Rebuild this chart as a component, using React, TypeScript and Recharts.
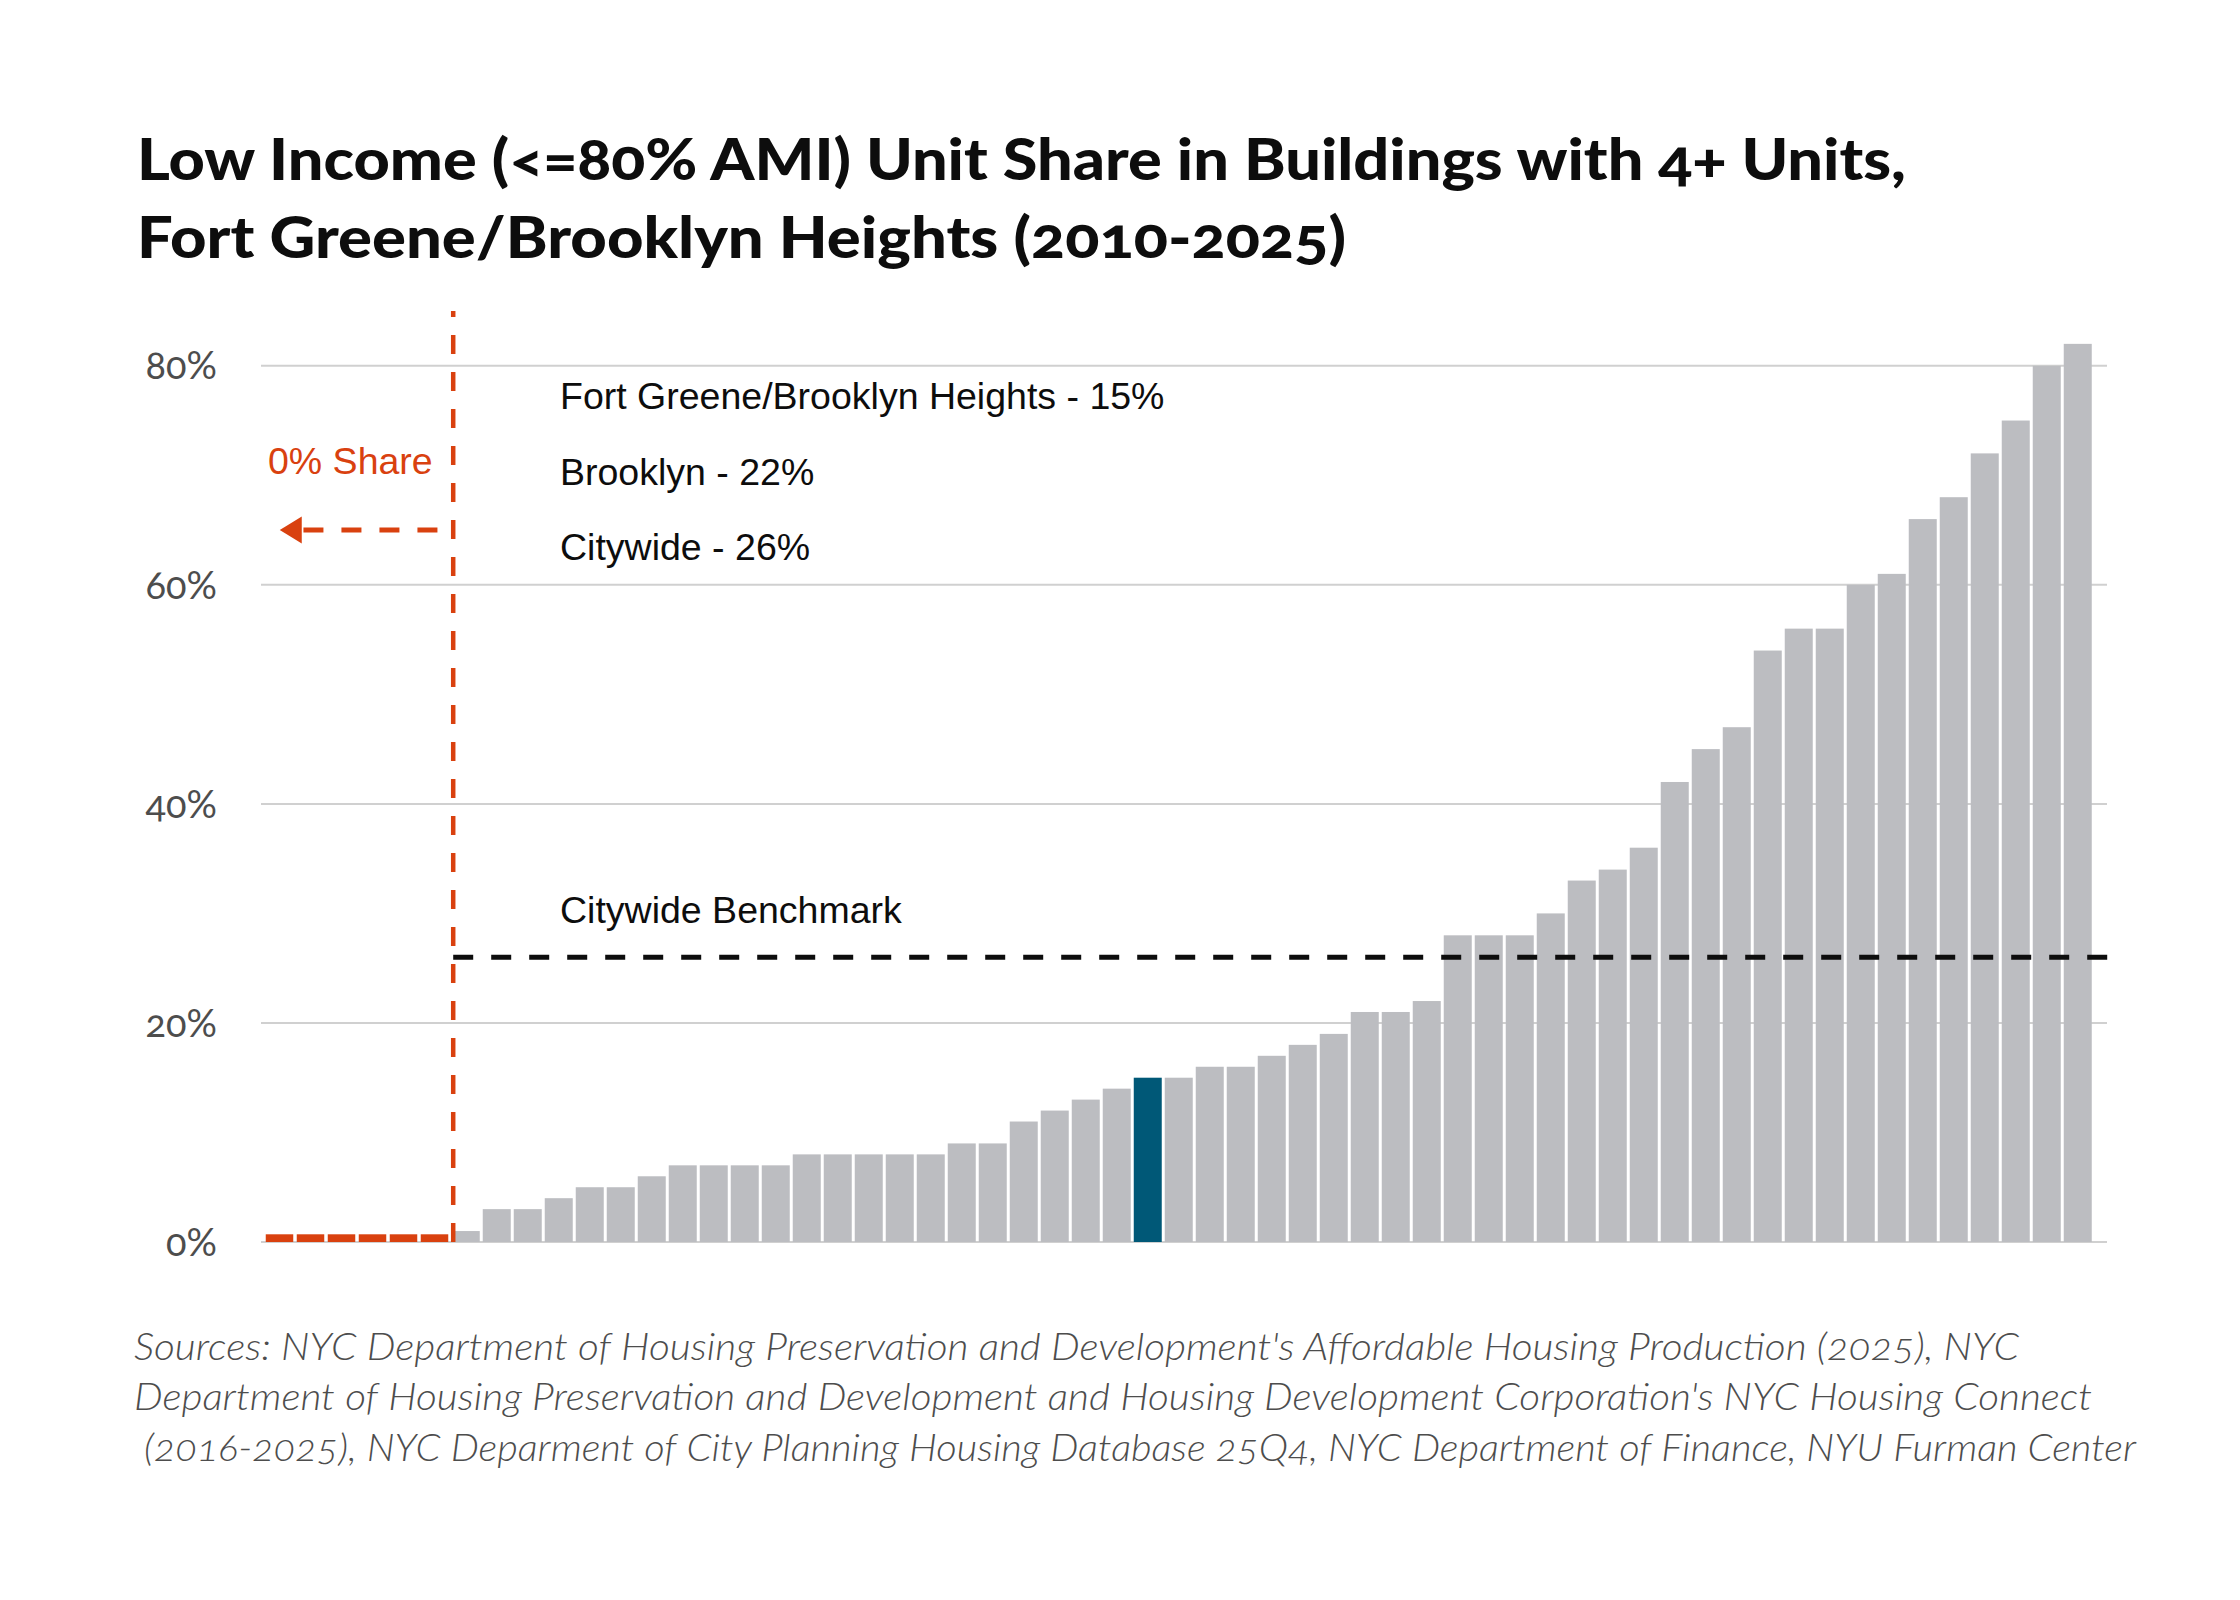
import { Bar, BarChart, CartesianGrid, ReferenceLine, XAxis, YAxis } from 'recharts';

// Low income unit share by community district, sorted ascending (59 districts).
const SHARES = [
  0, 0, 0, 0, 0, 0,
  1, 3, 3, 4, 5, 5, 6, 7, 7, 7, 7, 8, 8, 8, 8, 8, 9, 9, 11, 12, 13, 14,
  15, 15, 16, 16, 17, 18, 19, 21, 21, 22, 28, 28, 28, 30, 33, 34, 36, 42,
  45, 47, 54, 56, 56, 60, 61, 66, 68, 72, 75, 80, 82,
];
const HIGHLIGHT_INDEX = 28; // Fort Greene/Brooklyn Heights
const CITYWIDE_BENCHMARK = 26;
const ARROW_LEVEL = 65;
const Y_TICKS = [0, 20, 40, 60, 80];
const Y_MAX = 85;

const TITLE_LINES = [
  'Low Income (<=80% AMI) Unit Share in Buildings with 4+ Units,',
  'Fort Greene/Brooklyn Heights (2010-2025)',
];
const SUMMARY_LINES = [
  'Fort Greene/Brooklyn Heights - 15%',
  'Brooklyn - 22%',
  'Citywide - 26%',
];
const SOURCE_LINES = [
  "Sources: NYC Department of Housing Preservation and Development's Affordable Housing Production (2025), NYC",
  "Department of Housing Preservation and Development and Housing Development Corporation's NYC Housing Connect",
  '(2016-2025), NYC Deparment of City Planning Housing Database 25Q4, NYC Department of Finance, NYU Furman Center',
];

const ZERO_COUNT = SHARES.filter((v) => v === 0).length;
const data = SHARES.map((share, i) => ({ rank: String(i + 1), share, highlight: i === HIGHLIGHT_INDEX }));

const GRAY = '#bcbdc1';
const BLUE = '#005877';
const RED = '#d9410f';
const INK = '#0d0d0d';
const MUTED = '#4d4d4d';
const ZERO_MARK = 7.7;
const X_PADDING = { left: 3, right: 14 };
const OLD_NUMS = { fontVariantNumeric: 'oldstyle-nums', fontFeatureSettings: "'onum'" } as const;

function DistrictBar(props: any) {
  const { x, y, width, height, payload } = props;
  // Districts with no low income units get a short red marker on the baseline.
  if (payload.share === 0) {
    return <rect x={x} y={y + height - ZERO_MARK} width={width - 0.5} height={ZERO_MARK} fill={RED} />;
  }
  return <rect x={x} y={y} width={width} height={height} fill={payload.highlight ? BLUE : GRAY} />;
}

function YTick({ x, y, payload }: any) {
  return (
    <text
      x={x}
      y={y}
      dy="0.36em"
      textAnchor="end"
      fill={MUTED}
      fontSize={38}
      fontFamily="Lato, 'Open Sans', sans-serif"
      style={OLD_NUMS}
    >
      {payload.value}%
    </text>
  );
}

function Arrow({ x1, y1, x2, y2 }: any) {
  const head = 22;
  const half = 13.5;
  return (
    <g>
      <line x1={x1} y1={y1} x2={x2 + head} y2={y2} stroke={RED} strokeWidth={5} strokeDasharray="20 18" />
      <polygon points={`${x2},${y2} ${x2 + head},${y2 - half} ${x2 + head},${y2 + half}`} fill={RED} />
    </g>
  );
}

export default function App() {
  return (
    <div style={{ position: 'absolute', left: 0, top: 0, width: 2240, height: 1600, background: '#fff' }}>
      <div style={{ position: 'absolute', left: 0, top: 0 }}>
        <BarChart
          width={2240}
          height={1300}
          data={data}
          margin={{ top: 311, right: 133, bottom: 58, left: 0 }}
          barCategoryGap={1.75}
        >
          <CartesianGrid vertical={false} stroke="#d0d0d0" strokeWidth={2} syncWithTicks />
          <XAxis dataKey="rank" hide padding={X_PADDING} />
          <XAxis
            xAxisId="pos"
            type="number"
            domain={[0, SHARES.length]}
            allowDataOverflow
            hide
            padding={X_PADDING}
          />
          <YAxis
            domain={[0, Y_MAX]}
            ticks={Y_TICKS}
            width={261}
            tickSize={0}
            tickMargin={44}
            tickLine={false}
            axisLine={false}
            tick={<YTick />}
          />
          <Bar dataKey="share" shape={<DistrictBar />} isAnimationActive={false} />
          <ReferenceLine
            xAxisId="pos"
            segment={[
              { x: ZERO_COUNT, y: CITYWIDE_BENCHMARK },
              { x: SHARES.length, y: CITYWIDE_BENCHMARK },
            ]}
            ifOverflow="visible"
            stroke={INK}
            strokeWidth={5}
            strokeDasharray="20 18"
          />
          <ReferenceLine
            xAxisId="pos"
            x={ZERO_COUNT}
            stroke={RED}
            strokeWidth={4.5}
            strokeDasharray="19 18"
          />
          <ReferenceLine
            xAxisId="pos"
            segment={[
              { x: ZERO_COUNT - 0.5, y: ARROW_LEVEL },
              { x: 0.5, y: ARROW_LEVEL },
            ]}
            ifOverflow="visible"
            shape={<Arrow />}
          />
        </BarChart>
      </div>
      <svg
        width={2240}
        height={1600}
        style={{ position: 'absolute', left: 0, top: 0, pointerEvents: 'none' }}
      >
        <g fontFamily="Lato, 'Open Sans', sans-serif" fontWeight={900} fontSize={57} fill={INK} style={OLD_NUMS}>
          <text x={137} y={180} textLength={1769} lengthAdjust="spacingAndGlyphs">
            {TITLE_LINES[0]}
          </text>
          <text x={137} y={258} textLength={1209} lengthAdjust="spacingAndGlyphs">
            {TITLE_LINES[1]}
          </text>
        </g>
        <g fontFamily="'Liberation Sans', Arial, sans-serif" fontSize={37.5} fill={INK}>
          {SUMMARY_LINES.map((line, i) => (
            <text key={line} x={560} y={409 + i * 75.5}>
              {line}
            </text>
          ))}
          <text x={560} y={923}>
            Citywide Benchmark
          </text>
          <text x={268} y={474} fill={RED}>
            0% Share
          </text>
        </g>
        <g
          fontFamily="Lato, 'Open Sans', sans-serif"
          fontWeight={300}
          fontStyle="italic"
          fontSize={37}
          fill={MUTED}
          style={OLD_NUMS}
        >
          <text x={134} y={1360} textLength={1885} lengthAdjust="spacingAndGlyphs">
            {SOURCE_LINES[0]}
          </text>
          <text x={134} y={1410} textLength={1958} lengthAdjust="spacingAndGlyphs">
            {SOURCE_LINES[1]}
          </text>
          <text x={144} y={1461} textLength={1992} lengthAdjust="spacingAndGlyphs">
            {SOURCE_LINES[2]}
          </text>
        </g>
      </svg>
    </div>
  );
}
